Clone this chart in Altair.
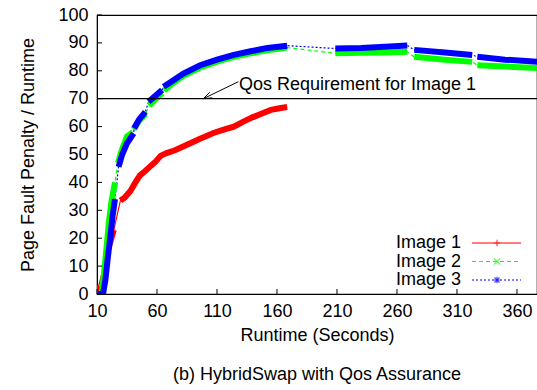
import altair as alt
import pandas as pd

FONT = "Liberation Sans"

# ---------------- data ----------------
names = ["Image 1", "Image 2", "Image 3"]
colors = ["#ff0000", "#00ff00", "#0000ff"]

# Image 1 (red)
img1_x = [10, 11.5, 18.5, 21, 24, 29.5, 33, 38, 42, 46, 50, 55, 59, 63, 68, 75, 85, 95,
          107, 115, 124, 132, 140, 148, 155, 162, 168.5]
img1_y = [0, 3, 15, 18.5, 23, 33.5, 34.5, 37, 40, 42.6, 44, 46, 47.5, 49.5, 50.5, 51.5,
          53.5, 55.5, 57.7, 58.8, 60, 61.8, 63.4, 64.8, 66, 66.6, 67]
img1_seg = [0, 0, 1, 1, 1] + [2] * 22

# Image 2 (green)
img2_x = [10, 14, 16, 18, 20, 22, 25,
          27.5, 31, 35, 40,
          40.5, 45, 50.5,
          53.5, 58, 64.5,
          66, 74, 82, 96, 110, 124, 138, 152, 168.5,
          208.6, 230, 250, 268.6,
          274.4, 300, 322.7,
          327, 350, 377]
img2_y = [0, 0, 8, 17, 26, 33, 40,
          47, 52, 56.5, 58,
          59, 62, 64.5,
          67.5, 69.5, 72,
          73, 75.8, 78.2, 81.2, 83.3, 85, 86.3, 87.4, 88.3,
          86.3, 86.5, 86.6, 86.8,
          85, 84, 83.2,
          82, 81.5, 81]
img2_seg = [0] * 7 + [1] * 4 + [2] * 3 + [3] * 3 + [4] * 9 + [5] * 4 + [6] * 3 + [7] * 3

# Image 3 (blue)
img3_x = [10.5, 15, 17, 19, 21, 23, 25,
          28, 31, 35, 40.5,
          41, 45, 50.3,
          53, 58, 64.2,
          65.5, 74, 82, 96, 110, 124, 138, 152, 168.5,
          208.6, 230, 250, 268.6,
          274.4, 300, 322.7,
          327, 350, 377]
img3_y = [0, 0, 5, 13, 20, 28, 34,
          45.6, 50, 54, 57.6,
          59.4, 62.5, 65.3,
          68.9, 70.8, 73.1,
          74.3, 76.7, 79, 82, 84, 85.7, 87, 88.2, 89,
          88, 88.2, 88.6, 89.1,
          87.5, 86.6, 85.7,
          85, 84, 83.2]
img3_seg = [0] * 7 + [1] * 4 + [2] * 3 + [3] * 3 + [4] * 9 + [5] * 4 + [6] * 3 + [7] * 3

x_ticks = [10, 60, 110, 160, 210, 260, 310, 360]
y_ticks = [0, 10, 20, 30, 40, 50, 60, 70, 80, 90, 100]
qos_level = 70
qos_text = "Qos Requirement for Image 1"
arrow_tail = (127.8, 76.1)
arrow_head = (98.6, 70.0)
x_title = "Runtime (Seconds)"
y_title = "Page Fault Penalty / Runtime"
caption = "(b) HybridSwap with Qos Assurance"

# ---------------- build tables ----------------
rows = []
for name, xs_, ys_, segs in [(names[0], img1_x, img1_y, img1_seg),
                             (names[1], img2_x, img2_y, img2_seg),
                             (names[2], img3_x, img3_y, img3_seg)]:
    for i, (a, b, s) in enumerate(zip(xs_, ys_, segs)):
        rows.append({"x": a, "y": b, "series": name, "seg": f"{name}-{s}", "idx": i})
df = pd.DataFrame(rows)

W, H = 440, 279
XDOM = [10, 376.7]

xs = alt.Scale(domain=XDOM, nice=False, zero=False)
ys = alt.Scale(domain=[0, 100], nice=False, zero=False)
cs = alt.Scale(domain=names, range=colors)
dash_scale = alt.Scale(domain=names, range=[[1, 0], [4, 3], [2, 2]])

xaxis = alt.Axis(values=x_ticks, tickSize=0, labelFont=FONT, labelFontSize=18,
                 labelColor="black", labelPadding=8, domainColor="black",
                 title=x_title, titleFont=FONT, titleFontSize=18,
                 titleFontWeight="normal", titleColor="black", titlePadding=6,
                 grid=False, labelFlush=False, labelOverlap=False)
yaxis = alt.Axis(values=y_ticks, tickSize=0, labelFont=FONT, labelFontSize=18,
                 labelColor="black", labelPadding=9, domainColor="black",
                 title=y_title, titleFont=FONT, titleFontSize=18,
                 titleFontWeight="normal", titleColor="black", titlePadding=20,
                 grid=False, labelOverlap=False, labelFlush=False)


def X(f="x"):
    return alt.X(f"{f}:Q", scale=xs, axis=xaxis)


def Y(f="y"):
    return alt.Y(f"{f}:Q", scale=ys, axis=yaxis)


thin = alt.Chart(df).mark_line(strokeWidth=1.2, clip=True).encode(
    x=X(), y=Y(),
    color=alt.Color("series:N", scale=cs, legend=None),
    strokeDash=alt.StrokeDash("series:N", scale=dash_scale, legend=None),
    order="idx:Q",
)
thick = alt.Chart(df).mark_line(strokeWidth=6, strokeCap="butt", clip=True).encode(
    x=X(), y=Y(),
    color=alt.Color("series:N", scale=cs, legend=None),
    detail="seg:N",
    order="idx:Q",
)

qos = alt.Chart(pd.DataFrame({"y": [qos_level]})).mark_rule(color="black", strokeWidth=1.2).encode(
    y=Y())

arrow_df = pd.DataFrame({"x": [arrow_tail[0]], "y": [arrow_tail[1]],
                         "x2": [arrow_head[0]], "y2": [arrow_head[1]]})
arrow = alt.Chart(arrow_df).mark_rule(color="black", strokeWidth=1).encode(
    x=X(), y=Y(), x2="x2:Q", y2="y2:Q")
head_df = pd.DataFrame({"x": [arrow_head[0]] * 2, "y": [arrow_head[1]] * 2,
                        "x2": [arrow_head[0] + 8.9 / 1.2, arrow_head[0] + 6.4 / 1.2],
                        "y2": [arrow_head[1] + 0.8 / 2.79, arrow_head[1] + 6.4 / 2.79]})
head = alt.Chart(head_df).mark_rule(color="black", strokeWidth=1).encode(
    x=X(), y=Y(), x2="x2:Q", y2="y2:Q")

qos_label = alt.Chart(pd.DataFrame({"t": [qos_text]})).mark_text(
    font=FONT, fontSize=18, align="left", baseline="middle", color="black").encode(
    x=alt.value(142), y=alt.value(70), text="t:N")

# inward ticks
xt = alt.Chart(pd.DataFrame({"x": x_ticks})).mark_rule(color="black").encode(
    x=X(), y=alt.value(H), y2=alt.value(H - 5))
yt = alt.Chart(pd.DataFrame({"y": y_ticks})).mark_rule(color="black").encode(
    y=Y(), x=alt.value(0), x2=alt.value(5))

# legend (manual, inside the plot), one row per series
shapes = ["M-1,0L1,0M0,-1L0,1", "M-1,-1L1,1M-1,1L1,-1",
          "M-1,0L1,0M0,-1L0,1M-0.8,-0.8L0.8,0.8M-0.8,0.8L0.8,-0.8"]
dashes = [[1, 0], [4, 3], [2, 2]]
legend_layers = []
for i, name in enumerate(names):
    ypix = 228 + i * 18.5
    one = pd.DataFrame({"name": [name]})
    legend_layers.append(alt.Chart(one).mark_text(
        font=FONT, fontSize=18, align="right", baseline="middle", color="black").encode(
        x=alt.value(364), y=alt.value(ypix), text="name:N"))
    legend_layers.append(alt.Chart(one).mark_rule(
        strokeWidth=1.2, color=colors[i], strokeDash=dashes[i]).encode(
        x=alt.value(375), x2=alt.value(424), y=alt.value(ypix)))
    legend_layers.append(alt.Chart(one).mark_point(
        filled=False, strokeWidth=1.2, size=40, color=colors[i], shape=shapes[i]).encode(
        x=alt.value(400), y=alt.value(ypix)))

cap = alt.Chart(pd.DataFrame({"t": [caption]})).mark_text(
    font=FONT, fontSize=18, align="center", baseline="middle", color="black").encode(
    x=alt.value(W / 2), y=alt.value(360), text="t:N")

chart = alt.layer(thin, thick, qos, arrow, head, qos_label, xt, yt,
                  *legend_layers, cap).properties(
    width=W, height=H,
    autosize=alt.AutoSizeParams(type="none"),
    padding={"left": 97, "top": 15, "right": 0, "bottom": 96},
    background="white",
).configure_view(stroke="black", strokeWidth=1.2)

chart.save("out.html", embed_options={"renderer": "svg", "actions": False})
